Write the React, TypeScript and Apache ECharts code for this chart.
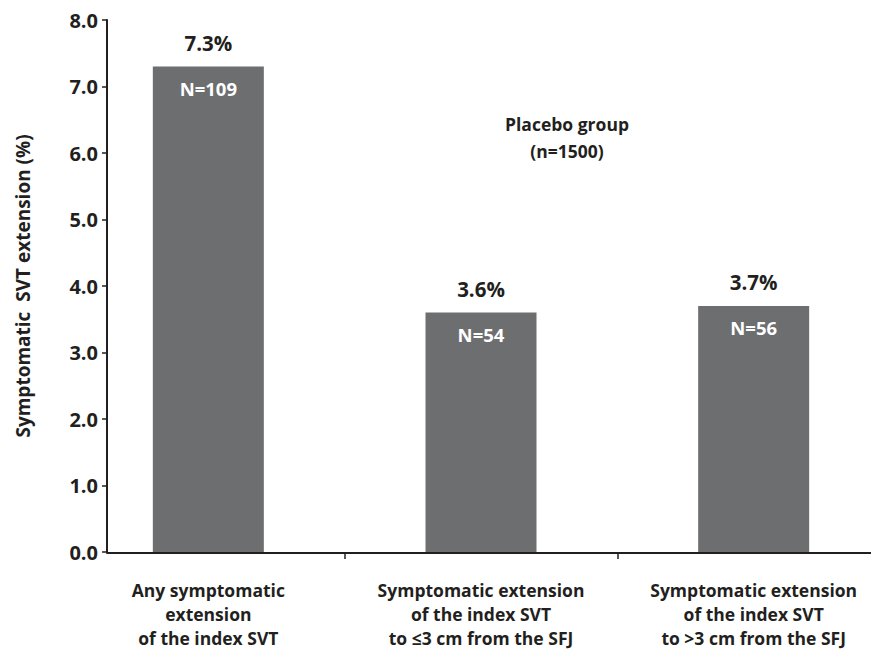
import React, { useEffect, useRef } from "react";
import * as echarts from "echarts";

const categories = [
  "Any symptomatic\nextension\nof the index SVT",
  "Symptomatic extension\nof the index SVT\nto ≤3 cm from the SFJ",
  "Symptomatic extension\nof the index SVT\nto >3 cm from the SFJ",
];
const percentValues = [7.3, 3.6, 3.7];
const counts = ["N=109", "N=54", "N=56"];
const yTicks = { min: 0, max: 8, interval: 1 };
const yAxisTitle = "Symptomatic  SVT extension (%)";
const annotation = ["Placebo group", "(n=1500)"];

const FONT = "'Open Sans', 'Noto Sans', sans-serif";
const BAR = "#6d6e70";
const INK = "#231f20";

export default function App() {
  const ref = useRef<HTMLDivElement>(null);
  useEffect(() => {
    if (!ref.current) return;
    const chart = echarts.init(ref.current, null, { renderer: "svg" });
    chart.setOption({
      animation: false,
      backgroundColor: "#ffffff",
      grid: [
        { left: 72, right: 0, top: 20, bottom: 97, containLabel: false },
        { left: 107, right: 0, top: 20, bottom: 97, containLabel: false },
      ],
      xAxis: [
        {
          type: "category",
          gridIndex: 0,
          data: categories,
          axisLine: { show: false },
          axisTick: {
            show: true,
            length: 7,
            interval: (i: number) => i > 0,
            lineStyle: { color: INK, width: 1.5 },
          },
          axisLabel: {
            color: INK,
            fontFamily: FONT,
            fontWeight: "bold",
            fontSize: 17.5,
            lineHeight: 24,
            margin: 26,
            interval: 0,
          },
        },
        {
          type: "category",
          gridIndex: 1,
          data: categories,
          axisLine: { show: true, lineStyle: { color: INK, width: 2 } },
          axisTick: { show: false },
          axisLabel: { show: false },
        },
      ],
      yAxis: [
        {
          type: "value",
          gridIndex: 0,
          offset: -35,
          min: yTicks.min,
          max: yTicks.max,
          interval: yTicks.interval,
          name: yAxisTitle,
          nameLocation: "middle",
          nameGap: 75,
          nameTextStyle: { color: INK, fontFamily: FONT, fontWeight: "bold", fontSize: 19 },
          axisLine: { show: true, lineStyle: { color: INK, width: 2 } },
          axisTick: { show: true, length: 5, lineStyle: { color: INK, width: 1.5 } },
          splitLine: { show: false },
          axisLabel: {
            color: INK,
            fontFamily: FONT,
            fontWeight: "bold",
            fontSize: 20,
            margin: 9,
            formatter: (v: number) => v.toFixed(1),
          },
        },
        {
          type: "value",
          gridIndex: 1,
          min: yTicks.min,
          max: yTicks.max,
          show: false,
          splitLine: { show: false },
        },
      ],
      series: [
        {
          type: "bar",
          xAxisIndex: 0,
          yAxisIndex: 0,
          data: percentValues,
          barWidth: 111,
          itemStyle: { color: BAR },
          label: {
            show: true,
            position: "insideTop",
            distance: 12,
            color: "#ffffff",
            fontFamily: FONT,
            fontWeight: "bold",
            fontSize: 18.5,
            formatter: (p: any) => counts[p.dataIndex],
          },
        },
        {
          type: "bar",
          xAxisIndex: 0,
          yAxisIndex: 0,
          data: percentValues,
          barWidth: 111,
          barGap: "-100%",
          itemStyle: { color: "rgba(0,0,0,0)" },
          label: {
            show: true,
            position: "top",
            distance: 13,
            color: INK,
            fontFamily: FONT,
            fontWeight: "bold",
            fontSize: 20.5,
            formatter: (p: any) => p.value.toFixed(1) + "%",
          },
        },
      ],
      graphic: [
        {
          type: "text",
          x: 567,
          y: 110,
          style: {
            text: annotation.join("\n"),
            align: "center",
            verticalAlign: "top",
            fill: INK,
            font: `bold 17.5px ${FONT}`,
            lineHeight: 27,
          },
        },
      ],
    });
    return () => chart.dispose();
  }, []);
  return (
    <div style={{ position: "fixed", left: 0, top: 0, width: 871, height: 650, overflow: "hidden", background: "#fff" }}>
      <div ref={ref} style={{ position: "absolute", left: 0, top: 0, width: 890, height: 650 }} />
    </div>
  );
}
